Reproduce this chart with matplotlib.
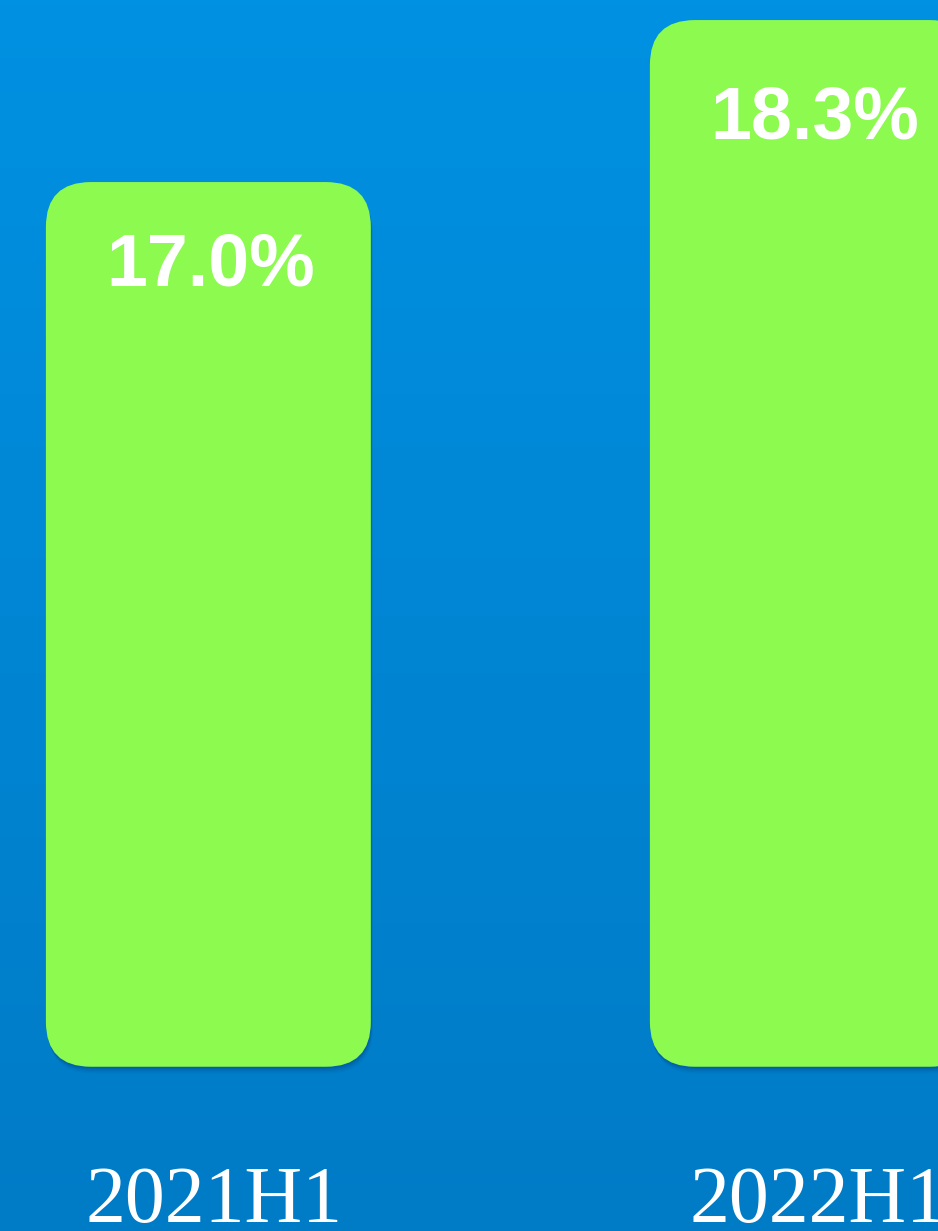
import matplotlib.pyplot as plt
import matplotlib.transforms as mtransforms
import numpy as np
from matplotlib.colors import LinearSegmentedColormap
from matplotlib.patches import FancyBboxPatch

# 数据
periods = ['2021H1', '2022H1']
values = [17.0, 18.3]
base = 9.9  # 柱子起点

bar_color = '#8CFA4F'

fig = plt.figure(figsize=(9.38, 12.31), dpi=100)
ax = fig.add_axes([0, 0, 1, 1])
ax.set_xlim(-0.345, 1.208)
ax.set_ylim(8.582, 18.461)
ax.axis('off')

# 背景渐变
bg = LinearSegmentedColormap.from_list('bg', ['#007BC6', '#0091E2'])
grad = np.linspace(0, 1, 256).reshape(-1, 1)
ax.imshow(grad, cmap=bg, origin='lower', aspect='auto',
          extent=[0, 1, 0, 1], transform=ax.transAxes, zorder=0)

x = np.arange(len(periods))
bars = ax.bar(x, [v - base for v in values], bottom=base, width=0.538)

# 圆角柱子 + 阴影
fig.canvas.draw()
sx = ax.transData.transform((1, 0))[0] - ax.transData.transform((0, 0))[0]
sy = ax.transData.transform((0, 1))[1] - ax.transData.transform((0, 0))[1]
aspect = sx / sy
r = 45 / sx
for b in bars:
    bx, by = b.get_x(), b.get_y()
    bw, bh = b.get_width(), b.get_height()
    b.remove()
    for i, a in enumerate([0.10, 0.10, 0.08, 0.06, 0.04]):
        off = mtransforms.offset_copy(ax.transData, fig=fig, x=0.3 * (i + 1),
                                      y=-1.0 * (i + 1), units='points')
        sh = FancyBboxPatch((bx, by), bw, bh,
                            boxstyle=f'round,pad=0,rounding_size={r}',
                            mutation_aspect=aspect, facecolor='#003060',
                            edgecolor='none', alpha=a, transform=off, zorder=1)
        ax.add_patch(sh)
    p = FancyBboxPatch((bx, by), bw, bh,
                       boxstyle=f'round,pad=0,rounding_size={r}',
                       mutation_aspect=aspect, facecolor=bar_color,
                       edgecolor='none', zorder=2)
    ax.add_patch(p)

# 数值标签
for xi, v in zip(x, values):
    ax.text(xi + 0.004, v - 0.095 * (v - base), f'{v:.1f}%', ha='center', va='center',
            fontsize=53, fontweight='bold', color='white',
            family='Liberation Sans', zorder=3)

# 期间标签
trans = mtransforms.blended_transform_factory(ax.transData, ax.transAxes)
for xi, lab in zip(x, periods):
    ax.text(xi + 0.01, 0.0073, lab, ha='center', va='baseline', fontsize=57.5,
            color='white', family='Liberation Serif', transform=trans, zorder=3)

plt.savefig('out.png', dpi=100)
